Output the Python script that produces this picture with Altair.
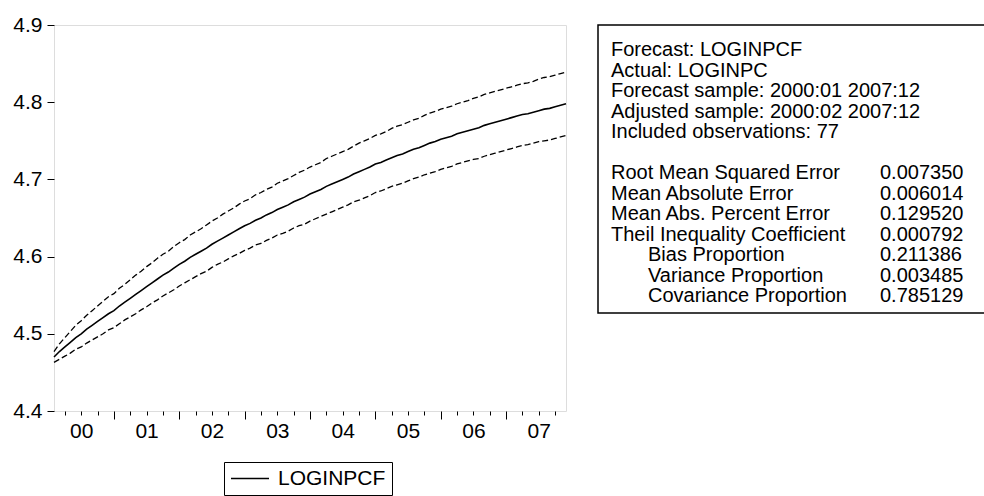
import altair as alt
import pandas as pd

# ---------------- data ----------------
# month index: 0 = 2000:01, so 1..95 = 2000:02 .. 2007:12
months = list(range(1, 96))

forecast = [
    4.470, 4.477, 4.483, 4.489, 4.495, 4.500, 4.506, 4.511, 4.516, 4.521, 4.526,
    4.530, 4.536, 4.541, 4.546, 4.551, 4.556, 4.561, 4.566, 4.571, 4.576, 4.580,
    4.585, 4.590, 4.594, 4.599, 4.603, 4.607, 4.611, 4.616, 4.620, 4.624, 4.628,
    4.632, 4.636, 4.640, 4.643, 4.647, 4.650, 4.654, 4.657, 4.661, 4.664, 4.667,
    4.671, 4.674, 4.677, 4.681, 4.684, 4.687, 4.691, 4.694, 4.697, 4.700, 4.703,
    4.707, 4.710, 4.713, 4.716, 4.720, 4.722, 4.725, 4.728, 4.731, 4.733, 4.736,
    4.739, 4.741, 4.744, 4.747, 4.749, 4.752, 4.754, 4.756, 4.759, 4.761, 4.763,
    4.765, 4.767, 4.770, 4.772, 4.774, 4.776, 4.778, 4.780, 4.782, 4.784, 4.785,
    4.787, 4.789, 4.791, 4.792, 4.794, 4.796, 4.798,
]
upper = [
    4.477, 4.487, 4.495, 4.503, 4.511, 4.517, 4.524, 4.530, 4.536, 4.542, 4.548,
    4.552, 4.559, 4.564, 4.570, 4.576, 4.581, 4.587, 4.592, 4.598, 4.603, 4.607,
    4.613, 4.618, 4.622, 4.628, 4.632, 4.636, 4.641, 4.646, 4.650, 4.655, 4.659,
    4.663, 4.668, 4.672, 4.675, 4.680, 4.683, 4.687, 4.690, 4.695, 4.698, 4.701,
    4.705, 4.709, 4.712, 4.716, 4.719, 4.722, 4.727, 4.730, 4.733, 4.736, 4.739,
    4.743, 4.747, 4.750, 4.753, 4.757, 4.759, 4.762, 4.766, 4.769, 4.771, 4.774,
    4.777, 4.779, 4.783, 4.786, 4.788, 4.791, 4.793, 4.795, 4.798, 4.800, 4.802,
    4.805, 4.807, 4.810, 4.812, 4.814, 4.816, 4.818, 4.820, 4.822, 4.824, 4.825,
    4.827, 4.830, 4.832, 4.833, 4.835, 4.837, 4.839,
]
lower = [
    4.463, 4.467, 4.471, 4.475, 4.480, 4.483, 4.488, 4.492, 4.496, 4.500, 4.505,
    4.508, 4.513, 4.518, 4.522, 4.526, 4.531, 4.535, 4.540, 4.544, 4.549, 4.553,
    4.557, 4.562, 4.566, 4.570, 4.574, 4.578, 4.581, 4.586, 4.590, 4.593, 4.597,
    4.601, 4.604, 4.608, 4.611, 4.615, 4.617, 4.621, 4.624, 4.628, 4.630, 4.633,
    4.637, 4.640, 4.642, 4.646, 4.649, 4.652, 4.655, 4.658, 4.661, 4.664, 4.667,
    4.671, 4.673, 4.676, 4.679, 4.683, 4.685, 4.688, 4.691, 4.693, 4.695, 4.698,
    4.701, 4.703, 4.706, 4.708, 4.710, 4.713, 4.715, 4.717, 4.720, 4.722, 4.724,
    4.726, 4.727, 4.730, 4.732, 4.734, 4.736, 4.738, 4.740, 4.742, 4.744, 4.745,
    4.747, 4.749, 4.750, 4.751, 4.753, 4.755, 4.757,
]

y_ticks = [4.4, 4.5, 4.6, 4.7, 4.8, 4.9]
x_ticks = list(range(3, 96, 3))          # quarterly ticks
series_name = "LOGINPCF"

header_lines = [
    "Forecast: LOGINPCF",
    "Actual: LOGINPC",
    "Forecast sample: 2000:01 2007:12",
    "Adjusted sample: 2000:02 2007:12",
    "Included observations: 77",
]
stat_names = [
    "Root Mean Squared Error",
    "Mean Absolute Error",
    "Mean Abs. Percent Error",
    "Theil Inequality Coefficient",
]
sub_names = ["Bias Proportion", "Variance Proportion", "Covariance Proportion"]
stat_values = ["0.007350", "0.006014", "0.129520", "0.000792",
               "0.211386", "0.003485", "0.785129"]

# ---------------- chart ----------------
FONT = "Liberation Sans"
AFS = 21      # axis / legend font size
TFS = 20      # text box font size
LH = 20.5     # text box line spacing
TY = 31       # baseline of first text box line (relative to plot top)

df = pd.DataFrame({"t": months, "forecast": forecast, "upper": upper,
                   "lower": lower, "series": series_name})
one = pd.DataFrame({"k": [0]})

xscale = alt.Scale(domain=[1, 95], nice=False, zero=False)
yscale = alt.Scale(domain=[4.4, 4.9], nice=False, zero=False)

xaxis = alt.Axis(
    values=x_ticks, title=None, grid=False, domain=False,
    tickColor="black", tickWidth=1,
    tickSize={"condition": {"test": "datum.value % 12 === 0", "value": 8}, "value": 4},
    labelExpr="datum.value % 12 === 6 ? '0' + floor(datum.value / 12) : ''",
    labelOverlap=False, labelFlush=False, labelPadding=5,
    labelFont=FONT, labelFontSize=AFS, labelColor="black",
)
yaxis = alt.Axis(
    values=y_ticks, format=".1f", title=None, grid=False, domain=False,
    tickColor="black", tickWidth=1, tickSize=7, labelPadding=5,
    labelFont=FONT, labelFontSize=AFS, labelColor="black",
)

solid = alt.Chart(df).mark_line(strokeWidth=1.6, color="black").encode(
    x=alt.X("t:Q", scale=xscale, axis=xaxis),
    y=alt.Y("forecast:Q", scale=yscale, axis=yaxis),
    color=alt.Color(
        "series:N",
        scale=alt.Scale(range=["black"]),
        legend=alt.Legend(
            title=None, orient="none", legendX=170, legendY=437,
            strokeColor="black", fillColor="white", padding=6,
            labelFont=FONT, labelFontSize=AFS, labelColor="black",
            symbolType="M-1,0H3", symbolSize=361, labelOffset=27,
            symbolStrokeWidth=1.5, symbolStrokeColor="black",
        ),
    ),
)
up_line = alt.Chart(df).mark_line(strokeWidth=1.3, color="black", strokeDash=[6, 3]).encode(
    x=alt.X("t:Q", scale=xscale, axis=xaxis),
    y=alt.Y("upper:Q", scale=yscale, axis=yaxis),
)
lo_line = alt.Chart(df).mark_line(strokeWidth=1.3, color="black", strokeDash=[6, 3]).encode(
    x=alt.X("t:Q", scale=xscale, axis=xaxis),
    y=alt.Y("lower:Q", scale=yscale, axis=yaxis),
)

box = alt.Chart(one).mark_rect(fill="white", stroke="black", strokeWidth=1.5).encode(
    x=alt.value(544), x2=alt.value(945), y=alt.value(0), y2=alt.value(TY + 12 * LH + 11)
)


def text_block(lines, x, y):
    return alt.Chart(one).mark_text(
        text=lines, align="left", baseline="alphabetic", lineHeight=LH,
        font=FONT, fontSize=TFS, color="black",
    ).encode(x=alt.value(x), y=alt.value(y))


header = text_block(header_lines, 557, TY)
stats = text_block(stat_names, 557, TY + 6 * LH)
subs = text_block(sub_names, 594, TY + 10 * LH)
vals = text_block(stat_values, 826, TY + 6 * LH)

chart = (
    alt.layer(up_line, lo_line, solid, box, header, stats, subs, vals)
    .properties(
        width=512, height=386,
        padding={"left": 54, "top": 25, "right": 418, "bottom": 85},
        autosize=alt.AutoSizeParams(type="none"),
        background="white",
    )
    .configure_view(stroke="black", strokeWidth=1.5)
    .configure(font=FONT)
)

chart.save("out.html", embed_options={"renderer": "svg", "actions": False})
